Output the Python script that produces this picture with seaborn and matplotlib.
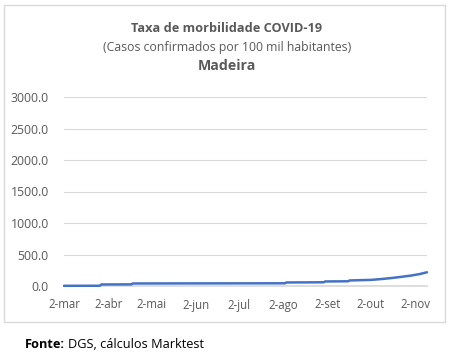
import matplotlib

matplotlib.use("Agg")

import matplotlib.pyplot as plt
import pandas as pd
import seaborn as sns
from matplotlib.patches import Rectangle

# values (breakpoints of the cumulative rate)
dates = [
    "2020-03-02", "2020-03-27", "2020-03-28", "2020-04-18", "2020-04-19",
    "2020-08-03", "2020-08-04", "2020-08-30", "2020-08-31", "2020-09-16",
    "2020-09-17", "2020-10-02", "2020-10-09", "2020-10-16", "2020-10-23",
    "2020-10-30", "2020-11-05", "2020-11-10",
]
rate = [
    3, 4, 24, 26, 40,
    43, 56, 59, 72, 75,
    88, 97, 110, 126, 145,
    166, 190, 218,
]
tick_dates = [
    "2020-03-02", "2020-04-02", "2020-05-02", "2020-06-02", "2020-07-02",
    "2020-08-02", "2020-09-02", "2020-10-02", "2020-11-02",
]
tick_labels = ["2-mar", "2-abr", "2-mai", "2-jun", "2-jul", "2-ago", "2-set", "2-out", "2-nov"]
y_ticks = [0, 500, 1000, 1500, 2000, 2500, 3000]

df = pd.DataFrame({"data": pd.to_datetime(dates), "taxa": rate})

sns.set_theme(style="white")
plt.rcParams["font.family"] = ["Open Sans", "DejaVu Sans"]

grey = "#595959"
fig = plt.figure(figsize=(4.54, 3.61), dpi=100)
fig.patch.set_facecolor("white")
fig.patches.append(Rectangle((4 / 454, 1 - 322 / 361), 441 / 454, 317 / 361,
                             transform=fig.transFigure, fill=False,
                             edgecolor="#D9D9D9", linewidth=1))

ax = fig.add_axes([64 / 454, 1 - 286 / 361, 363 / 454, 189 / 361])
sns.lineplot(data=df, x="data", y="taxa", color="#4472C4", linewidth=1.8, ax=ax,
             zorder=4, clip_on=False)

ax.set_ylim(0, 3000)
ax.set_yticks(y_ticks)
ax.set_yticklabels([f"{v:.1f}" for v in y_ticks], color=grey, fontsize=8.8)
ax.set_xlim(pd.Timestamp("2020-03-02"), pd.Timestamp("2020-11-10"))
ax.set_xticks(pd.to_datetime(tick_dates))
ax.set_xticklabels(tick_labels, color=grey, fontsize=8.3)
ax.set_xlabel("")
ax.set_ylabel("")
ax.grid(axis="y", color="#D9D9D9", linewidth=0.8)
for s in ["top", "right", "left"]:
    ax.spines[s].set_visible(False)
ax.spines["bottom"].set_color("#D9D9D9")
ax.tick_params(axis="x", length=4, color="#D9D9D9", pad=5)
ax.tick_params(axis="y", length=0, pad=11)

fig.text(0.5, 1 - 29 / 361, "Taxa de morbilidade COVID-19", ha="center", va="center",
         fontsize=9.2, fontweight="bold", color=grey)
fig.text(0.5, 1 - 47 / 361, "(Casos confirmados por 100 mil habitantes)", ha="center",
         va="center", fontsize=8.8, color=grey)
fig.text(0.5, 1 - 66 / 361, "Madeira", ha="center", va="center",
         fontsize=10.2, fontweight="bold", color=grey)

t1 = fig.text(25 / 454, 1 - 345 / 361, "Fonte:", ha="left", va="center",
              fontsize=9.2, fontweight="bold", color="black")
fig.canvas.draw()
bb = t1.get_window_extent()
fig.text(bb.x1 / 454 + 3 / 454, 1 - 345 / 361, "DGS, cálculos Marktest", ha="left",
         va="center", fontsize=9.2, color="black")

fig.savefig("out.png", dpi=100)
